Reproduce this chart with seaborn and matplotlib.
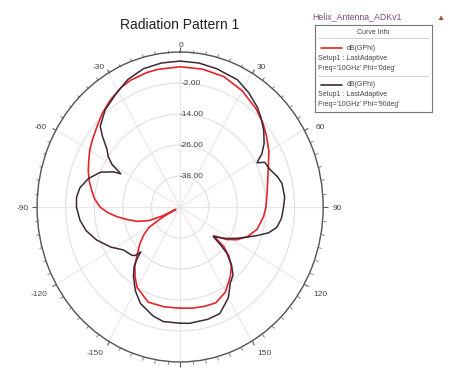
import numpy as np
import matplotlib
matplotlib.use("Agg")
import matplotlib.pyplot as plt
import seaborn as sns

sns.set_style("white")
plt.rcParams["font.family"] = ["Liberation Sans", "DejaVu Sans"]

# dB(GPhi), Phi = 0deg : theta (deg) and gain (dB)
theta_phi0 = [-180, -170, -160, -150, -145, -140, -136, -130, -125, -121, -118, -116.5,
              -115, -112, -107, -102, -98, -94, -90, -85, -80, -75, -70, -66, -60, -55,
              -48, -42, -35, -28, -23, -15, -10, 0, 10, 20, 30, 40, 47, 53, 60, 67, 75,
              82, 90, 96, 105, 112, 118, 123, 127, 128.5, 130, 133, 137, 142, 150, 158,
              165, 172, 180]
gain_phi0 = [-10.8, -10.8, -10.8, -14.0, -17.0, -20.5, -24.0, -28.0, -31.5, -35.0, -42.0, -48.0,
             -42.0, -36.0, -31.0, -27.0, -23.2, -19.5, -16.4, -14.0, -12.3, -10.5, -9.0, -8.0,
             -6.2, -5.0, -3.2, -1.2, 0.8, 2.5, 3.3, 3.9, 4.1, 4.3, 4.2, 3.7, 2.0, -0.4, -2.5,
             -4.6, -7.0, -9.8, -12.0, -13.2, -14.0, -14.8, -16.6, -19.5, -23.0, -27.0, -31.0,
             -32.0, -26.0, -22.0, -18.5, -15.8, -12.0, -10.0, -10.2, -10.5, -10.8]

# dB(GPhi), Phi = 90deg
theta_phi90 = [-180, -171, -165, -156, -150, -144, -140, -138, -136.5, -135, -133, -125,
               -118, -110, -103, -97, -90, -85, -80, -74, -68, -64, -62.7, -60, -57, -54,
               -50, -47, -40, -31, -24, -16, -8, 0, 8, 16, 26, 33, 40, 45, 50, 55, 59, 62,
               64, 69, 74, 78, 85, 90, 96, 101, 105, 109, 113, 117, 122, 126, 129.4, 131,
               132.4, 136, 140, 144.5, 150, 158, 165, 175, 180]
gain_phi90 = [-5.0, -5.1, -6.3, -9.1, -12.5, -16.7, -20.0, -23.0, -26.0, -23.5, -22.5, -21.0,
              -17.0, -12.7, -9.5, -7.7, -6.5, -6.4, -7.3, -10.0, -14.0, -19.0, -22.0, -17.0,
              -14.0, -12.1, -7.5, -4.2, -1.0, 1.6, 4.0, 5.7, 6.3, 6.5, 6.3, 5.7, 4.8, 2.8,
              0.4, -1.8, -4.2, -7.0, -10.0, -13.5, -10.5, -9.6, -7.5, -6.3, -6.0, -6.6, -7.3,
              -8.7, -11.5, -16.0, -20.0, -23.3, -27.0, -30.0, -32.0, -27.0, -23.5, -19.0,
              -15.5, -13.8, -9.5, -5.5, -5.0, -4.8, -5.0]

ring_values = [-38, -26, -14, -2]
r_limits = (-50, 10)
angle_ticks = [0, 30, 60, 90, 120, 150, 180, 210, 240, 270, 300, 330]
angle_labels = ["0", "30", "60", "90", "120", "150", "", "-150", "-120", "-90", "-60", "-30"]
# label offsets from the outer circle, in pixels
label_offsets = [(1, 7), (10, 5), (16, 2), (14, -1), (16, -10), (13, -12), (0, 0),
                 (-13, -12), (-17, -10), (-14, -1), (-16, 2), (-10, 5)]

red = "#e3242b"
dark = "#3b2838"
ring_col = "#e6dde0"
spoke_col = "#ece6e8"
text_col = "#444444"

fig = plt.figure(figsize=(4.52, 3.69), dpi=100)
ax = fig.add_axes([0.082, 0.019, 0.633, 0.840], projection="polar")
ax.set_aspect("auto")
ax.set_theta_zero_location("N")
ax.set_theta_direction(-1)

sns.lineplot(x=np.deg2rad(theta_phi0), y=gain_phi0, ax=ax, sort=False, estimator=None,
             color=red, linewidth=1.2)
sns.lineplot(x=np.deg2rad(theta_phi90), y=gain_phi90, ax=ax, sort=False, estimator=None,
             color=dark, linewidth=1.1)

ax.set_ylim(*r_limits)
ax.set_yticks(ring_values + [r_limits[1]])
ax.set_yticklabels([])
ax.set_xticks(np.deg2rad(angle_ticks))
ax.set_xticklabels([])
ax.set_xticks(np.deg2rad(np.arange(0, 360, 5)), minor=True)
ax.set_thetalim(0, 2 * np.pi)
ax.tick_params(axis="x", which="both", bottom=False, top=True)
ax.tick_params(axis="x", which="major", length=3.5, width=0.8, direction="out",
               color="#5a5a5a")
ax.tick_params(axis="x", which="minor", length=2.2, width=0.6, direction="out",
               color="#6a6a6a")
ax.xaxis.grid(True, which="major", color=spoke_col, linewidth=0.8)
ax.yaxis.grid(True, color=ring_col, linewidth=0.8)
ax.spines["polar"].set_color("#555555")
ax.spines["polar"].set_linewidth(1.0)
ax.set_xlabel("")
ax.set_ylabel("")

for ang, lab, (dx, dy) in zip(angle_ticks, angle_labels, label_offsets):
    if lab:
        ax.annotate(lab, xy=(np.deg2rad(ang), r_limits[1]), xytext=(dx, dy),
                    textcoords="offset pixels", ha="center", va="center",
                    fontsize=6, color=text_col, annotation_clip=False)

for v in ring_values:
    ax.annotate(f"{v:.2f}", xy=(0, v), xytext=(8, 0), textcoords="offset points",
                ha="center", va="center", fontsize=6, color=text_col)

fig.text(180 / 452, 1 - 25 / 369, "Radiation Pattern 1", ha="center", va="center",
         fontsize=10, color="#222222")
fig.text(312 / 452, 1 - 17 / 369, "Helix_Antenna_ADKv1", ha="left", va="center",
         fontsize=6.3, color="#7a4c78")
fig.text(440 / 452, 1 - 18 / 369, "\u25b2", ha="center", va="center",
         fontsize=6, color="#a0522d")

# legend panel in pixel units
lax = fig.add_axes([315 / 452, 1 - 112 / 369, 117 / 452, 87 / 369])
lax.set_xlim(315, 432)
lax.set_ylim(112, 25)
lax.set_xticks([])
lax.set_yticks([])
for s in lax.spines.values():
    s.set_color("#777777")
    s.set_linewidth(0.8)
lax.text(373, 32, "Curve Info", ha="center", va="center", fontsize=5, color=text_col)
lax.plot([318, 429], [38, 38], color="#cccccc", linewidth=0.6)
lax.plot([318, 429], [76, 76], color="#cccccc", linewidth=0.6)
entries = [(48, red, "0deg"), (85, dark, "90deg")]
for y0, col, phi in entries:
    lax.plot([321, 342], [y0, y0], color=col, linewidth=1.2)
    lax.text(347, y0, "dB(GPhi)", ha="left", va="center", fontsize=5, color=text_col)
    lax.text(318, y0 + 10, "Setup1 : LastAdaptive", ha="left", va="center",
             fontsize=5, color=text_col)
    lax.text(318, y0 + 20, f"Freq='10GHz' Phi='{phi}'", ha="left", va="center",
             fontsize=5, color=text_col)

fig.savefig("out.png", dpi=100)
